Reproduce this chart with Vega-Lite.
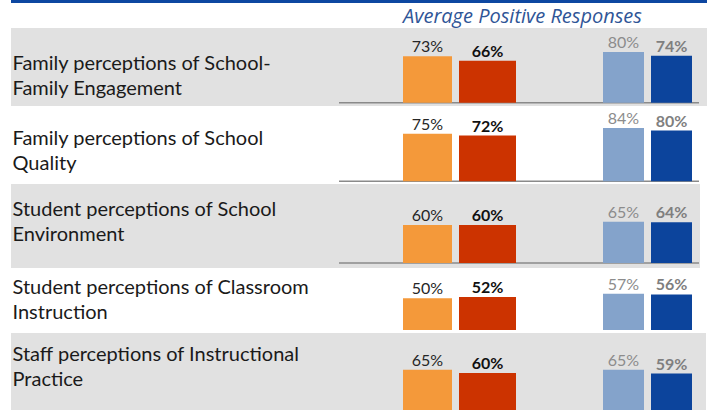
{
  "$schema": "https://vega.github.io/schema/vega-lite/v6.json",
  "padding": {"left": 11, "top": 0, "right": 0, "bottom": 0},
  "background": "white",
  "spacing": 0,
  "config": {"view": {"stroke": null}, "font": "Lato", "concat": {"spacing": 0}},
  "datasets": {
    "survey": [
      {"category": "Family perceptions of School-Family Engagement", "group": "School", "year": "Prior", "series": "School Prior", "value": 0.73},
      {"category": "Family perceptions of School-Family Engagement", "group": "School", "year": "Current", "series": "School Current", "value": 0.66},
      {"category": "Family perceptions of School-Family Engagement", "group": "District", "year": "Prior", "series": "District Prior", "value": 0.80},
      {"category": "Family perceptions of School-Family Engagement", "group": "District", "year": "Current", "series": "District Current", "value": 0.74},
      {"category": "Family perceptions of School Quality", "group": "School", "year": "Prior", "series": "School Prior", "value": 0.75},
      {"category": "Family perceptions of School Quality", "group": "School", "year": "Current", "series": "School Current", "value": 0.72},
      {"category": "Family perceptions of School Quality", "group": "District", "year": "Prior", "series": "District Prior", "value": 0.84},
      {"category": "Family perceptions of School Quality", "group": "District", "year": "Current", "series": "District Current", "value": 0.80},
      {"category": "Student perceptions of School Environment", "group": "School", "year": "Prior", "series": "School Prior", "value": 0.60},
      {"category": "Student perceptions of School Environment", "group": "School", "year": "Current", "series": "School Current", "value": 0.60},
      {"category": "Student perceptions of School Environment", "group": "District", "year": "Prior", "series": "District Prior", "value": 0.65},
      {"category": "Student perceptions of School Environment", "group": "District", "year": "Current", "series": "District Current", "value": 0.64},
      {"category": "Student perceptions of Classroom Instruction", "group": "School", "year": "Prior", "series": "School Prior", "value": 0.50},
      {"category": "Student perceptions of Classroom Instruction", "group": "School", "year": "Current", "series": "School Current", "value": 0.52},
      {"category": "Student perceptions of Classroom Instruction", "group": "District", "year": "Prior", "series": "District Prior", "value": 0.57},
      {"category": "Student perceptions of Classroom Instruction", "group": "District", "year": "Current", "series": "District Current", "value": 0.56},
      {"category": "Staff perceptions of Instructional Practice", "group": "School", "year": "Prior", "series": "School Prior", "value": 0.65},
      {"category": "Staff perceptions of Instructional Practice", "group": "School", "year": "Current", "series": "School Current", "value": 0.60},
      {"category": "Staff perceptions of Instructional Practice", "group": "District", "year": "Prior", "series": "District Prior", "value": 0.65},
      {"category": "Staff perceptions of Instructional Practice", "group": "District", "year": "Current", "series": "District Current", "value": 0.59}
    ]
  },
  "vconcat": [
    {
      "width": 696, "height": 3,
      "view": {"fill": "#0d47a1"},
      "data": {"values": [{}]},
      "mark": {"type": "rect", "opacity": 0},
      "encoding": {}
    },
    {
      "width": 696, "height": 4,
      "data": {"values": [{}]},
      "mark": {"type": "rect", "opacity": 0},
      "encoding": {}
    },
    {
      "width": 696, "height": 78,
      "view": {"fill": "#e1e1e1"},
      "title": {"text": "Average Positive Responses", "anchor": "start", "dx": 392, "fontStyle": "italic", "fontWeight": "normal", "fontSize": 20, "color": "#2f5597", "offset": 1, "font": "Open Sans"},
      "data": {"name": "survey"},
      "transform": [{"filter": {"field": "category", "equal": "Family perceptions of School-Family Engagement"}}],
      "encoding": {"y": {"field": "value", "type": "quantitative", "scale": {"domain": [-0.052, 1.176], "nice": false, "zero": false},
        "axis": {"title": ["Family perceptions of School-", "Family Engagement"], "titleAngle": 0, "titleAlign": "left", "titleBaseline": "middle", "titleX": 1, "titleY": 35, "labels": false, "ticks": false, "domain": false, "grid": false, "titleFontSize": 20, "titleFontWeight": "normal", "titleColor": "#1a1a1a", "titleLineHeight": 25, "titleFont": "Lato"}}},
      "layer": [
        {"transform": [{"filter": {"field": "series", "equal": "School Prior"}}], "mark": {"type": "rule", "color": "#8a8a8a", "strokeWidth": 1.5},
         "encoding": {"x": {"datum": 0, "type": "quantitative", "scale": {"domain": [0, 1], "range": [328, 688]}, "axis": null}, "x2": {"datum": 1}, "y": {"datum": 0, "type": "quantitative"}}},
        {"transform": [{"filter": {"field": "group", "equal": "School"}}],
         "encoding": {"x": {"field": "year", "type": "nominal", "scale": {"domain": ["Prior", "Current"], "range": [390, 503], "paddingInner": 0.1167, "paddingOuter": 0}, "axis": null}},
         "layer": [
           {"mark": {"type": "bar"}, "encoding": {"color": {"field": "series", "type": "nominal", "scale": {"domain": ["School Prior", "School Current", "District Prior", "District Current"], "range": ["#f4993a", "#cc3300", "#84a3cb", "#0c449c"]}, "legend": null}, "size": {"condition": {"test": "datum.year == 'Current'", "value": 57}, "value": 49}}},
           {"transform": [{"filter": {"field": "year", "equal": "Prior"}}], "mark": {"type": "text", "baseline": "alphabetic", "dy": -4, "fontSize": 16, "color": "#262626"}, "encoding": {"text": {"field": "value", "type": "quantitative", "format": ".0%"}}},
           {"transform": [{"filter": {"field": "year", "equal": "Current"}}], "mark": {"type": "text", "baseline": "alphabetic", "dy": -4, "fontSize": 16, "fontWeight": "bold", "color": "#111111"}, "encoding": {"text": {"field": "value", "type": "quantitative", "format": ".0%"}}}
         ]},
        {"transform": [{"filter": {"field": "group", "equal": "District"}}],
         "encoding": {"x": {"field": "year", "type": "nominal", "scale": {"domain": ["Prior", "Current"], "range": [592, 681], "paddingInner": 0.1458, "paddingOuter": 0}, "axis": null}},
         "layer": [
           {"mark": {"type": "bar"}, "encoding": {"color": {"field": "series", "type": "nominal", "legend": null}}},
           {"transform": [{"filter": {"field": "year", "equal": "Prior"}}], "mark": {"type": "text", "baseline": "alphabetic", "dy": -4, "fontSize": 16, "color": "#8c8c8c"}, "encoding": {"text": {"field": "value", "type": "quantitative", "format": ".0%"}}},
           {"transform": [{"filter": {"field": "year", "equal": "Current"}}], "mark": {"type": "text", "baseline": "alphabetic", "dy": -4, "fontSize": 16, "fontWeight": "bold", "color": "#7f7f7f"}, "encoding": {"text": {"field": "value", "type": "quantitative", "format": ".0%"}}}
         ]}
      ],
      "resolve": {"scale": {"x": "independent"}}
    },
    {
      "width": 696, "height": 78,
      "data": {"name": "survey"},
      "transform": [{"filter": {"field": "category", "equal": "Family perceptions of School Quality"}}],
      "encoding": {"y": {"field": "value", "type": "quantitative", "scale": {"domain": [-0.0425, 1.186], "nice": false, "zero": false},
        "axis": {"title": ["Family perceptions of School", "Quality"], "titleAngle": 0, "titleAlign": "left", "titleBaseline": "middle", "titleX": 1, "titleY": 32, "labels": false, "ticks": false, "domain": false, "grid": false, "titleFontSize": 20, "titleFontWeight": "normal", "titleColor": "#1a1a1a", "titleLineHeight": 25, "titleFont": "Lato"}}},
      "layer": [
        {"transform": [{"filter": {"field": "series", "equal": "School Prior"}}], "mark": {"type": "rule", "color": "#8a8a8a", "strokeWidth": 1.5},
         "encoding": {"x": {"datum": 0, "type": "quantitative", "scale": {"domain": [0, 1], "range": [328, 688]}, "axis": null}, "x2": {"datum": 1}, "y": {"datum": 0, "type": "quantitative"}}},
        {"transform": [{"filter": {"field": "group", "equal": "School"}}],
         "encoding": {"x": {"field": "year", "type": "nominal", "scale": {"domain": ["Prior", "Current"], "range": [390, 503], "paddingInner": 0.1167, "paddingOuter": 0}, "axis": null}},
         "layer": [
           {"mark": {"type": "bar"}, "encoding": {"color": {"field": "series", "type": "nominal", "scale": {"domain": ["School Prior", "School Current", "District Prior", "District Current"], "range": ["#f4993a", "#cc3300", "#84a3cb", "#0c449c"]}, "legend": null}, "size": {"condition": {"test": "datum.year == 'Current'", "value": 57}, "value": 49}}},
           {"transform": [{"filter": {"field": "year", "equal": "Prior"}}], "mark": {"type": "text", "baseline": "alphabetic", "dy": -4, "fontSize": 16, "color": "#262626"}, "encoding": {"text": {"field": "value", "type": "quantitative", "format": ".0%"}}},
           {"transform": [{"filter": {"field": "year", "equal": "Current"}}], "mark": {"type": "text", "baseline": "alphabetic", "dy": -4, "fontSize": 16, "fontWeight": "bold", "color": "#111111"}, "encoding": {"text": {"field": "value", "type": "quantitative", "format": ".0%"}}}
         ]},
        {"transform": [{"filter": {"field": "group", "equal": "District"}}],
         "encoding": {"x": {"field": "year", "type": "nominal", "scale": {"domain": ["Prior", "Current"], "range": [592, 681], "paddingInner": 0.1458, "paddingOuter": 0}, "axis": null}},
         "layer": [
           {"mark": {"type": "bar"}, "encoding": {"color": {"field": "series", "type": "nominal", "legend": null}}},
           {"transform": [{"filter": {"field": "year", "equal": "Prior"}}], "mark": {"type": "text", "baseline": "alphabetic", "dy": -4, "fontSize": 16, "color": "#8c8c8c"}, "encoding": {"text": {"field": "value", "type": "quantitative", "format": ".0%"}}},
           {"transform": [{"filter": {"field": "year", "equal": "Current"}}], "mark": {"type": "text", "baseline": "alphabetic", "dy": -4, "fontSize": 16, "fontWeight": "bold", "color": "#7f7f7f"}, "encoding": {"text": {"field": "value", "type": "quantitative", "format": ".0%"}}}
         ]}
      ],
      "resolve": {"scale": {"x": "independent"}}
    },
    {
      "width": 689, "height": 84,
      "view": {"fill": "#e1e1e1"},
      "data": {"name": "survey"},
      "transform": [{"filter": {"field": "category", "equal": "Student perceptions of School Environment"}}],
      "encoding": {"y": {"field": "value", "type": "quantitative", "scale": {"domain": [-0.0787, 1.244], "nice": false, "zero": false},
        "axis": {"title": ["Student perceptions of School", "Environment"], "titleAngle": 0, "titleAlign": "left", "titleBaseline": "middle", "titleX": 1, "titleY": 25, "labels": false, "ticks": false, "domain": false, "grid": false, "titleFontSize": 20, "titleFontWeight": "normal", "titleColor": "#1a1a1a", "titleLineHeight": 25, "titleFont": "Lato"}}},
      "layer": [
        {"transform": [{"filter": {"field": "series", "equal": "School Prior"}}], "mark": {"type": "rule", "color": "#8a8a8a", "strokeWidth": 1.5},
         "encoding": {"x": {"datum": 0, "type": "quantitative", "scale": {"domain": [0, 1], "range": [328, 688]}, "axis": null}, "x2": {"datum": 1}, "y": {"datum": 0, "type": "quantitative"}}},
        {"transform": [{"filter": {"field": "group", "equal": "School"}}],
         "encoding": {"x": {"field": "year", "type": "nominal", "scale": {"domain": ["Prior", "Current"], "range": [390, 503], "paddingInner": 0.1167, "paddingOuter": 0}, "axis": null}},
         "layer": [
           {"mark": {"type": "bar"}, "encoding": {"color": {"field": "series", "type": "nominal", "scale": {"domain": ["School Prior", "School Current", "District Prior", "District Current"], "range": ["#f4993a", "#cc3300", "#84a3cb", "#0c449c"]}, "legend": null}, "size": {"condition": {"test": "datum.year == 'Current'", "value": 57}, "value": 49}}},
           {"transform": [{"filter": {"field": "year", "equal": "Prior"}}], "mark": {"type": "text", "baseline": "alphabetic", "dy": -4, "fontSize": 16, "color": "#262626"}, "encoding": {"text": {"field": "value", "type": "quantitative", "format": ".0%"}}},
           {"transform": [{"filter": {"field": "year", "equal": "Current"}}], "mark": {"type": "text", "baseline": "alphabetic", "dy": -4, "fontSize": 16, "fontWeight": "bold", "color": "#111111"}, "encoding": {"text": {"field": "value", "type": "quantitative", "format": ".0%"}}}
         ]},
        {"transform": [{"filter": {"field": "group", "equal": "District"}}],
         "encoding": {"x": {"field": "year", "type": "nominal", "scale": {"domain": ["Prior", "Current"], "range": [592, 681], "paddingInner": 0.1458, "paddingOuter": 0}, "axis": null}},
         "layer": [
           {"mark": {"type": "bar"}, "encoding": {"color": {"field": "series", "type": "nominal", "legend": null}}},
           {"transform": [{"filter": {"field": "year", "equal": "Prior"}}], "mark": {"type": "text", "baseline": "alphabetic", "dy": -4, "fontSize": 16, "color": "#8c8c8c"}, "encoding": {"text": {"field": "value", "type": "quantitative", "format": ".0%"}}},
           {"transform": [{"filter": {"field": "year", "equal": "Current"}}], "mark": {"type": "text", "baseline": "alphabetic", "dy": -4, "fontSize": 16, "fontWeight": "bold", "color": "#7f7f7f"}, "encoding": {"text": {"field": "value", "type": "quantitative", "format": ".0%"}}}
         ]}
      ],
      "resolve": {"scale": {"x": "independent"}}
    },
    {
      "width": 696, "height": 65,
      "data": {"name": "survey"},
      "transform": [{"filter": {"field": "category", "equal": "Student perceptions of Classroom Instruction"}}],
      "encoding": {"y": {"field": "value", "type": "quantitative", "scale": {"domain": [-0.0472, 0.976], "nice": false, "zero": false},
        "axis": {"title": ["Student perceptions of Classroom", "Instruction"], "titleAngle": 0, "titleAlign": "left", "titleBaseline": "middle", "titleX": 1, "titleY": 19, "labels": false, "ticks": false, "domain": false, "grid": false, "titleFontSize": 20, "titleFontWeight": "normal", "titleColor": "#1a1a1a", "titleLineHeight": 25, "titleFont": "Lato"}}},
      "layer": [
        {"transform": [{"filter": {"field": "group", "equal": "School"}}],
         "encoding": {"x": {"field": "year", "type": "nominal", "scale": {"domain": ["Prior", "Current"], "range": [390, 503], "paddingInner": 0.1167, "paddingOuter": 0}, "axis": null}},
         "layer": [
           {"mark": {"type": "bar"}, "encoding": {"color": {"field": "series", "type": "nominal", "scale": {"domain": ["School Prior", "School Current", "District Prior", "District Current"], "range": ["#f4993a", "#cc3300", "#84a3cb", "#0c449c"]}, "legend": null}, "size": {"condition": {"test": "datum.year == 'Current'", "value": 57}, "value": 49}}},
           {"transform": [{"filter": {"field": "year", "equal": "Prior"}}], "mark": {"type": "text", "baseline": "alphabetic", "dy": -4, "fontSize": 16, "color": "#262626"}, "encoding": {"text": {"field": "value", "type": "quantitative", "format": ".0%"}}},
           {"transform": [{"filter": {"field": "year", "equal": "Current"}}], "mark": {"type": "text", "baseline": "alphabetic", "dy": -4, "fontSize": 16, "fontWeight": "bold", "color": "#111111"}, "encoding": {"text": {"field": "value", "type": "quantitative", "format": ".0%"}}}
         ]},
        {"transform": [{"filter": {"field": "group", "equal": "District"}}],
         "encoding": {"x": {"field": "year", "type": "nominal", "scale": {"domain": ["Prior", "Current"], "range": [592, 681], "paddingInner": 0.1458, "paddingOuter": 0}, "axis": null}},
         "layer": [
           {"mark": {"type": "bar"}, "encoding": {"color": {"field": "series", "type": "nominal", "legend": null}}},
           {"transform": [{"filter": {"field": "year", "equal": "Prior"}}], "mark": {"type": "text", "baseline": "alphabetic", "dy": -4, "fontSize": 16, "color": "#8c8c8c"}, "encoding": {"text": {"field": "value", "type": "quantitative", "format": ".0%"}}},
           {"transform": [{"filter": {"field": "year", "equal": "Current"}}], "mark": {"type": "text", "baseline": "alphabetic", "dy": -4, "fontSize": 16, "fontWeight": "bold", "color": "#7f7f7f"}, "encoding": {"text": {"field": "value", "type": "quantitative", "format": ".0%"}}}
         ]}
      ],
      "resolve": {"scale": {"x": "independent"}}
    },
    {
      "width": 695, "height": 78,
      "view": {"fill": "#e1e1e1"},
      "data": {"name": "survey"},
      "transform": [{"filter": {"field": "category", "equal": "Staff perceptions of Instructional Practice"}}],
      "encoding": {"y": {"field": "value", "type": "quantitative", "scale": {"domain": [0, 1.228], "nice": false, "zero": false},
        "axis": {"title": ["Staff perceptions of Instructional", "Practice"], "titleAngle": 0, "titleAlign": "left", "titleBaseline": "middle", "titleX": 1, "titleY": 21, "labels": false, "ticks": false, "domain": false, "grid": false, "titleFontSize": 20, "titleFontWeight": "normal", "titleColor": "#1a1a1a", "titleLineHeight": 25, "titleFont": "Lato"}}},
      "layer": [
        {"transform": [{"filter": {"field": "group", "equal": "School"}}],
         "encoding": {"x": {"field": "year", "type": "nominal", "scale": {"domain": ["Prior", "Current"], "range": [390, 503], "paddingInner": 0.1167, "paddingOuter": 0}, "axis": null}},
         "layer": [
           {"mark": {"type": "bar"}, "encoding": {"color": {"field": "series", "type": "nominal", "scale": {"domain": ["School Prior", "School Current", "District Prior", "District Current"], "range": ["#f4993a", "#cc3300", "#84a3cb", "#0c449c"]}, "legend": null}, "size": {"condition": {"test": "datum.year == 'Current'", "value": 57}, "value": 49}}},
           {"transform": [{"filter": {"field": "year", "equal": "Prior"}}], "mark": {"type": "text", "baseline": "alphabetic", "dy": -4, "fontSize": 16, "color": "#262626"}, "encoding": {"text": {"field": "value", "type": "quantitative", "format": ".0%"}}},
           {"transform": [{"filter": {"field": "year", "equal": "Current"}}], "mark": {"type": "text", "baseline": "alphabetic", "dy": -4, "fontSize": 16, "fontWeight": "bold", "color": "#111111"}, "encoding": {"text": {"field": "value", "type": "quantitative", "format": ".0%"}}}
         ]},
        {"transform": [{"filter": {"field": "group", "equal": "District"}}],
         "encoding": {"x": {"field": "year", "type": "nominal", "scale": {"domain": ["Prior", "Current"], "range": [592, 681], "paddingInner": 0.1458, "paddingOuter": 0}, "axis": null}},
         "layer": [
           {"mark": {"type": "bar"}, "encoding": {"color": {"field": "series", "type": "nominal", "legend": null}}},
           {"transform": [{"filter": {"field": "year", "equal": "Prior"}}], "mark": {"type": "text", "baseline": "alphabetic", "dy": -4, "fontSize": 16, "color": "#8c8c8c"}, "encoding": {"text": {"field": "value", "type": "quantitative", "format": ".0%"}}},
           {"transform": [{"filter": {"field": "year", "equal": "Current"}}], "mark": {"type": "text", "baseline": "alphabetic", "dy": -4, "fontSize": 16, "fontWeight": "bold", "color": "#7f7f7f"}, "encoding": {"text": {"field": "value", "type": "quantitative", "format": ".0%"}}}
         ]}
      ],
      "resolve": {"scale": {"x": "independent"}}
    }
  ]
}
